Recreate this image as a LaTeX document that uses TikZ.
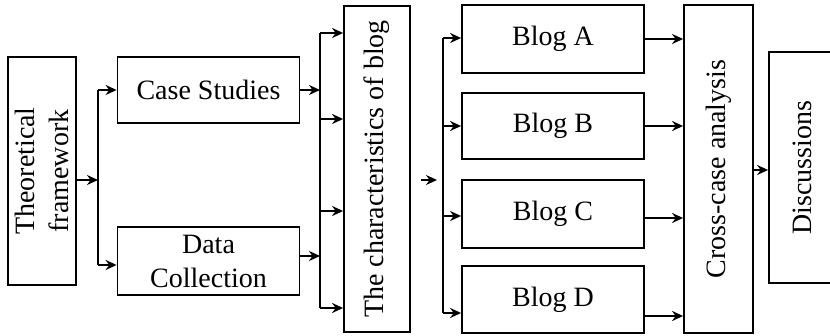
\documentclass[tikz,border=0pt]{standalone}
\usepackage{fontspec}
\setmainfont{Liberation Serif}
\usetikzlibrary{arrows.meta}
\tikzset{
 box/.style={draw,line width=0.9pt,inner sep=0pt,align=center,font=\fontsize{14pt}{17pt}\selectfont},
 vbox/.style={box,rotate=90},
 hbox/.style={box,minimum width=91pt,minimum height=34pt},
 ln/.style={line width=0.9pt},
 arr/.style={ln,-{Stealth[length=5.5pt,width=5pt]}}
}

\begin{document}
\begin{tikzpicture}[x=0.5pt,y=-0.5pt]
\useasboundingbox (0,0) rectangle (830,336);
% boxes (rotated boxes: north is the left side, south the right side)
\node[vbox,minimum width=114pt,minimum height=34pt] (theo) at (42,171) {Theoretical\\framework};
\node[hbox,minimum height=33pt] (cs) at (208.5,90) {Case Studies};
\node[hbox] (dc) at (208.5,261) {Data\\Collection};
\node[vbox,minimum width=163pt,minimum height=33pt] (char) at (377,169) {The characteristics of blog};
\node[hbox] (ba) at (553,39) {Blog A};
\node[hbox,minimum height=33pt] (bb) at (553,126) {Blog B};
\node[hbox] (bc) at (553,214) {Blog C};
\node[hbox,minimum height=33.5pt] (bd) at (553,299.5) {Blog D};
\node[vbox,minimum width=164pt,minimum height=34.5pt] (cross) at (718.5,169) {Cross-case analysis};
\node[vbox,minimum width=115.5pt,minimum height=33pt] (disc) at (802,167.5) {Discussions};
% fork points
\coordinate (f1) at (98,180);
\coordinate (f2) at (320,180);
\coordinate (f3) at (443,180);
% theoretical framework to case studies / data collection
\draw[arr] (theo.south |- f1) -- (f1);
\draw[ln] (f1 |- cs.west) -- (f1 |- 0,265);
\draw[arr] (f1 |- cs.west) -- (cs.west);
\draw[arr] (f1 |- 0,265) -- (dc.west |- 0,265);
% into the characteristics of blog
\draw[arr] (cs.east) -- (f2 |- cs.east);
\draw[arr] (dc.east |- 0,256) -- (f2 |- 0,256);
\draw[ln] (f2 |- 0,33) -- (f2 |- 0,308);
\foreach \y in {33,119,211,308}
\draw[arr] (f2 |- 0,\y) -- (char.north |- 0,\y);
% into the blogs
\draw[arr,shorten <=5pt,shorten >=3pt] (char.south |- f3) -- (f3);
\draw[ln] (f3 |- 0,38) -- (f3 |- 0,313);
\foreach \y/\b in {38/ba,126/bb,216/bc,313/bd}
\draw[arr] (f3 |- 0,\y) -- (\b.west |- 0,\y);
% blogs to cross-case analysis
\foreach \y/\b in {39/ba,126/bb,218/bc,316/bd}
\draw[arr] (\b.east |- 0,\y) -- (cross.north |- 0,\y);
\draw[arr] (cross.south |- 0,170) -- (disc.north |- 0,170);
\end{tikzpicture}
\end{document}
